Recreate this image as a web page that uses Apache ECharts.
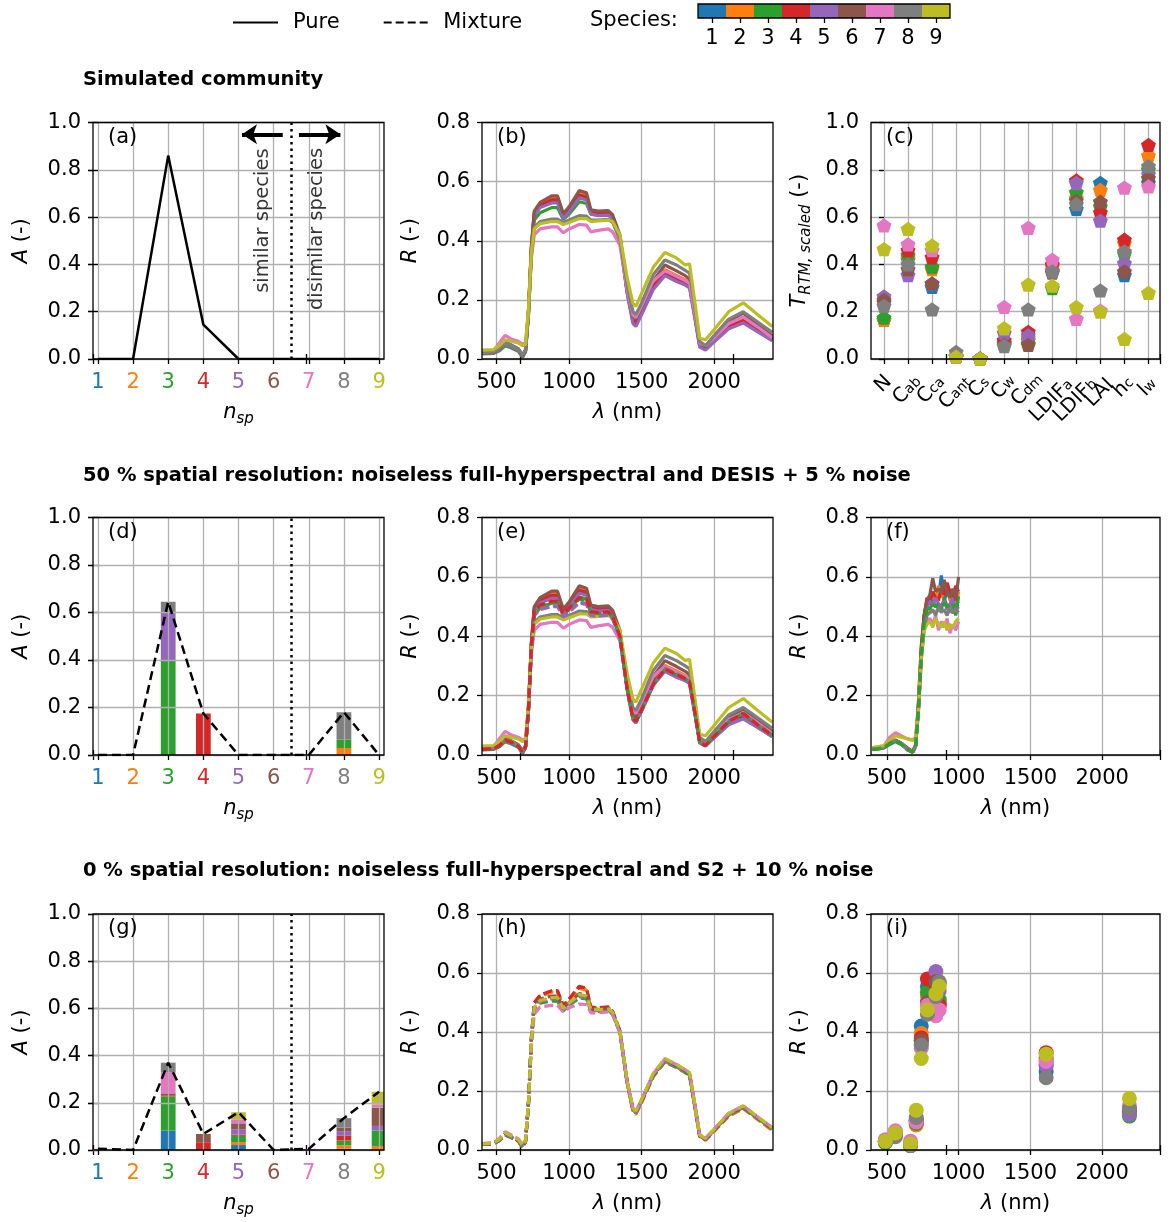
<!DOCTYPE html>
<html><head><meta charset="utf-8">
<script src="https://cdn.jsdelivr.net/npm/echarts@6/dist/echarts.min.js"></script>
<style>html,body{margin:0;padding:0;background:#fff}#c{width:1171px;height:1222px}</style>
</head><body><div id="c"></div>
<script>
// ---------------- DATA ----------------
const speciesLabels = ['1','2','3','4','5','6','7','8','9'];
const speciesColors = ['#1f77b4','#ff7f0e','#2ca02c','#d62728','#9467bd','#8c564b','#e377c2','#7f7f7f','#bcbd22'];
const nspTicks = [1,2,3,4,5,6,7,8,9];
const lambdaTicks = [500,1000,1500,2000];

const abundancePure  = [0,0,0.86,0.145,0,0,0,0,0];
const abundanceMix50 = [0,0,0.645,0.175,0,0,0,0.18,0];
const abundanceMix0  = [0.005,0,0.37,0.068,0.16,0,0.005,0.135,0.247];

// stacked bars: one row per species, one column per n_sp position
const barsMix50 = [
  [0,0,0,0,0,0,0,0,0],
  [0,0,0,0,0,0,0,0.03,0],
  [0,0,0.40,0,0,0,0,0.035,0],
  [0,0,0,0.175,0,0,0,0,0],
  [0,0,0.20,0,0,0,0,0,0],
  [0,0,0,0,0,0,0,0,0],
  [0,0,0,0,0,0,0,0,0],
  [0,0,0.045,0,0,0,0,0.115,0],
  [0,0,0,0,0,0,0,0,0]
];
const barsMix0 = [
  [0,0,0.082,0,0.021,0,0,0.005,0],
  [0.005,0,0,0,0.013,0,0,0.015,0.017],
  [0,0,0.145,0,0.026,0,0,0.02,0.065],
  [0,0,0.005,0.033,0.005,0,0,0.02,0],
  [0,0,0,0,0.023,0,0,0.02,0.02],
  [0,0,0.008,0.035,0.025,0,0,0.015,0.077],
  [0,0,0.09,0,0.017,0,0.005,0,0.013],
  [0,0,0.04,0,0,0,0,0.04,0],
  [0,0,0,0,0.03,0,0,0,0.055]
];

const traitMain = ['N','C','C','C','C','C','C','LDIF','LDIF','LAI','h','l'];
const traitSub  = ['','ab','ca','ant','s','w','dm','a','b','','c','w'];
const traitValues = [
  [.165,.42,.305,.01,.002,.07,.08,.37,.635,.745,.355,.745],
  [.165,.43,.38,.01,.002,.07,.09,.39,.68,.715,.49,.86],
  [.175,.44,.39,.01,.002,.065,.065,.30,.705,.645,.445,.80],
  [.24,.46,.43,.01,.002,.08,.115,.40,.755,.62,.505,.905],
  [.265,.355,.32,.01,.002,.11,.10,.375,.745,.585,.405,.78],
  [.25,.38,.32,.01,.002,.06,.06,.365,.67,.665,.37,.765],
  [.565,.485,.46,.01,.002,.22,.555,.42,.17,.205,.725,.73],
  [.225,.40,.21,.03,.002,.055,.21,.37,.655,.29,.455,.815],
  [.465,.55,.48,.01,.002,.13,.315,.31,.22,.20,.085,.28]
];

const wavelengths = [400,480,520,560,600,650,680,700,720,740,760,800,880,920,960,1000,1070,1120,1150,1200,1270,1300,1350,1400,1440,1460,1500,1580,1660,1740,1800,1830,1870,1900,1940,2000,2100,2200,2300,2400];
const pureSpectra = [
  [.019,.021,.033,.054,.045,.032,.010,.028,.155,.370,.490,.518,.535,.535,.480,.502,.552,.545,.495,.490,.492,.478,.410,.230,.135,.125,.165,.252,.300,.280,.265,.254,.140,.048,.036,.066,.115,.135,.100,.065],
  [.020,.022,.034,.055,.046,.033,.011,.030,.160,.375,.495,.525,.547,.547,.488,.510,.562,.555,.500,.495,.497,.483,.415,.235,.138,.128,.168,.255,.302,.283,.268,.257,.142,.050,.038,.068,.118,.140,.105,.068],
  [.017,.019,.028,.045,.038,.026,.006,.024,.145,.355,.470,.495,.512,.512,.472,.490,.532,.526,.490,.487,.490,.476,.408,.225,.125,.115,.155,.240,.288,.270,.257,.247,.133,.043,.032,.060,.105,.125,.094,.062],
  [.019,.021,.033,.052,.044,.031,.010,.028,.155,.370,.492,.520,.538,.538,.483,.505,.555,.548,.497,.493,.495,.480,.412,.230,.132,.122,.160,.245,.292,.272,.258,.247,.135,.045,.034,.062,.110,.130,.098,.065],
  [.019,.021,.032,.050,.042,.030,.009,.027,.150,.365,.485,.512,.528,.528,.475,.497,.545,.538,.490,.485,.487,.472,.402,.222,.120,.110,.150,.235,.282,.262,.250,.240,.128,.040,.030,.058,.102,.122,.092,.062],
  [.020,.022,.035,.058,.048,.035,.012,.030,.160,.380,.500,.530,.552,.552,.492,.515,.570,.562,.505,.500,.502,.488,.420,.240,.145,.135,.175,.265,.318,.298,.282,.270,.150,.055,.042,.075,.128,.155,.118,.078],
  [.025,.028,.055,.080,.068,.060,.050,.055,.160,.340,.420,.440,.447,.447,.427,.440,.455,.453,.430,.435,.440,.430,.385,.235,.150,.140,.180,.265,.298,.280,.265,.256,.145,.055,.045,.072,.120,.142,.108,.072],
  [.020,.024,.036,.055,.047,.034,.014,.032,.155,.350,.445,.465,.473,.473,.462,.470,.485,.483,.470,.470,.472,.462,.405,.250,.160,.150,.190,.285,.335,.318,.300,.290,.162,.060,.045,.080,.135,.160,.125,.090],
  [.030,.032,.045,.065,.060,.054,.045,.050,.170,.360,.440,.458,.465,.465,.455,.462,.475,.475,.465,.467,.470,.465,.420,.275,.188,.178,.222,.310,.360,.342,.318,.322,.180,.070,.065,.100,.160,.190,.150,.110]
];
// mixture spectra for panel (e): species index (1-based) and values
const mix50SpectraSpecies = [3,8,5,4];
const mix50Spectra = [
  [.018,.020,.030,.047,.040,.027,.007,.026,.150,.360,.475,.500,.512,.512,.472,.492,.525,.520,.478,.476,.478,.465,.398,.222,.120,.110,.150,.236,.288,.270,.256,.246,.132,.043,.032,.062,.112,.140,.100,.066],
  [.019,.021,.032,.050,.042,.029,.009,.028,.152,.362,.472,.492,.503,.503,.468,.485,.515,.510,.472,.470,.472,.460,.396,.224,.124,.114,.154,.240,.292,.274,.259,.249,.134,.044,.033,.064,.115,.142,.103,.068],
  [.019,.021,.031,.049,.041,.028,.008,.027,.150,.358,.470,.490,.500,.500,.465,.482,.512,.507,.470,.468,.470,.458,.394,.220,.118,.108,.148,.234,.285,.267,.253,.243,.130,.042,.031,.060,.110,.137,.098,.064],
  [.019,.021,.032,.051,.043,.030,.009,.028,.152,.365,.482,.505,.518,.518,.476,.495,.530,.525,.482,.480,.482,.468,.400,.224,.122,.112,.152,.238,.289,.271,.257,.247,.133,.043,.032,.063,.113,.140,.101,.066]
];
// mixture spectra for panel (h), species 1..9
const mix0Spectra = [
  [.020,.022,.034,.056,.046,.032,.010,.030,.160,.378,.498,.522,.537,.537,.488,.510,.552,.545,.483,.480,.483,.468,.403,.230,.136,.126,.166,.253,.303,.283,.266,.256,.138,.047,.035,.066,.118,.143,.106,.070],
  [.020,.022,.034,.055,.046,.032,.010,.030,.158,.375,.495,.520,.535,.535,.486,.507,.548,.542,.480,.478,.480,.466,.400,.226,.130,.120,.160,.248,.300,.280,.262,.252,.135,.045,.033,.063,.114,.140,.103,.066],
  [.019,.021,.032,.050,.042,.029,.008,.028,.152,.365,.478,.498,.505,.505,.472,.490,.515,.512,.470,.470,.472,.460,.398,.228,.135,.125,.165,.250,.298,.280,.263,.254,.138,.046,.035,.066,.118,.143,.106,.070],
  [.020,.022,.034,.055,.046,.032,.010,.030,.160,.380,.500,.525,.540,.540,.490,.512,.555,.548,.485,.482,.485,.470,.405,.232,.138,.128,.168,.255,.305,.285,.268,.258,.140,.048,.036,.068,.120,.145,.108,.072],
  [.019,.021,.032,.051,.043,.030,.009,.028,.153,.368,.482,.503,.512,.512,.476,.494,.520,.516,.473,.472,.474,.462,.400,.229,.136,.126,.166,.252,.301,.282,.265,.255,.139,.047,.035,.067,.119,.144,.107,.071],
  [.020,.022,.033,.053,.045,.031,.010,.029,.156,.372,.490,.512,.522,.522,.480,.500,.530,.526,.477,.476,.478,.465,.402,.231,.138,.128,.168,.256,.306,.286,.268,.258,.141,.048,.036,.068,.120,.146,.109,.073],
  [.022,.025,.040,.062,.052,.038,.018,.035,.150,.350,.460,.485,.490,.490,.468,.482,.495,.493,.465,.465,.468,.458,.398,.232,.140,.130,.170,.258,.308,.290,.272,.262,.145,.052,.040,.072,.125,.150,.112,.076],
  [.020,.023,.035,.055,.046,.033,.012,.030,.155,.368,.480,.505,.515,.515,.478,.496,.525,.520,.475,.474,.476,.464,.402,.232,.140,.130,.170,.257,.307,.288,.270,.260,.142,.050,.038,.070,.122,.148,.110,.074],
  [.021,.024,.037,.058,.049,.036,.016,.033,.157,.370,.482,.507,.517,.517,.480,.498,.527,.522,.477,.476,.478,.466,.404,.234,.142,.132,.172,.260,.310,.290,.272,.262,.144,.051,.039,.071,.124,.150,.112,.076]
];

const desisWavelengths = [400,440,480,520,560,600,640,680,700,720,740,760,780,800,820,840,860,880,900,920,940,960,980,1000];
const desisSpectra = [
  [.02,.022,.026,.04,.048,.04,.022,.01,.03,.16,.35,.46,.50,.52,.51,.54,.53,.605,.52,.55,.53,.50,.52,.51],
  [.02,.023,.027,.04,.05,.04,.024,.012,.035,.18,.37,.47,.52,.53,.55,.52,.57,.53,.55,.56,.52,.54,.50,.55],
  [.018,.02,.024,.035,.045,.035,.02,.008,.028,.15,.34,.45,.50,.49,.52,.50,.51,.49,.53,.50,.48,.51,.47,.535],
  [.02,.022,.026,.04,.05,.04,.022,.01,.03,.16,.35,.47,.53,.51,.55,.53,.52,.56,.54,.58,.55,.53,.57,.55],
  [.02,.022,.026,.04,.048,.04,.02,.01,.03,.15,.33,.45,.50,.52,.50,.53,.51,.50,.52,.49,.51,.53,.49,.50],
  [.02,.022,.025,.04,.05,.04,.025,.012,.03,.17,.36,.47,.52,.54,.595,.55,.56,.545,.59,.55,.53,.56,.52,.60],
  [.025,.027,.03,.06,.075,.065,.055,.05,.06,.15,.32,.42,.45,.46,.44,.47,.42,.45,.43,.46,.41,.44,.42,.45],
  [.02,.022,.025,.04,.05,.04,.02,.012,.028,.14,.32,.43,.47,.48,.49,.47,.50,.48,.49,.47,.50,.48,.49,.48],
  [.025,.028,.032,.05,.065,.06,.055,.05,.058,.15,.33,.42,.44,.45,.43,.46,.44,.43,.45,.42,.44,.43,.45,.46]
];
const desisMixSpecies = [8,3];
const desisMixSpectra = [
  [.02,.022,.025,.04,.05,.04,.02,.012,.03,.15,.33,.44,.475,.48,.485,.48,.49,.485,.49,.48,.485,.48,.485,.48],
  [.019,.021,.024,.038,.047,.037,.018,.01,.028,.15,.335,.45,.49,.50,.505,.50,.51,.505,.51,.50,.505,.50,.505,.50]
];

const s2Bands = [490,560,665,705,740,783,842,865,1610,2190];
const s2Reflectance = [
  [.03,.055,.02,.10,.42,.555,.55,.50,.265,.125],
  [.03,.055,.015,.085,.395,.52,.53,.49,.30,.13],
  [.025,.05,.015,.09,.37,.535,.52,.51,.29,.115],
  [.03,.055,.02,.095,.38,.58,.56,.49,.33,.135],
  [.03,.06,.02,.10,.36,.50,.605,.54,.285,.12],
  [.03,.055,.02,.10,.37,.50,.57,.565,.31,.14],
  [.035,.065,.03,.095,.345,.49,.455,.475,.30,.15],
  [.03,.045,.015,.11,.355,.46,.52,.57,.245,.14],
  [.03,.058,.02,.135,.31,.475,.53,.555,.325,.175]
];

// ---------------- LAYOUT / STYLE ----------------
const FONT = 'DejaVu Sans';
const FS = 21;
const cols = [{left:93,width:291},{left:482,width:291},{left:871,width:289}];
const rows = [{top:122.5,height:236.5},{top:517.5,height:237.5},{top:914,height:236}];

const grid=[], xAxis=[], yAxis=[], series=[], graphic=[];
const tickStyle = {show:true, length:5, lineStyle:{color:'#000', width:1.3}};
const splitStyle = {show:true, lineStyle:{color:'#b0b0b0', width:1.3}};
const labelBase = {color:'#000', fontSize:FS, fontFamily:FONT};
const richName = {
  m:{color:'#000', fontSize:FS, fontFamily:FONT, lineHeight:23, verticalAlign:'top'},
  i:{color:'#000', fontSize:FS, fontFamily:FONT, fontStyle:'italic', lineHeight:23, verticalAlign:'top'},
  si:{color:'#000', fontSize:15, fontFamily:FONT, fontStyle:'italic', lineHeight:15, padding:[10,0,0,0], verticalAlign:'top'}
};
const colorRich = {};
speciesLabels.forEach((l,i)=>{ colorRich['c'+l] = {color:speciesColors[i], fontSize:FS, fontFamily:FONT}; });

function addPanel(r, c, xCfg, yCfg, axisZ) {
  const gi = grid.length;
  grid.push({left:cols[c].left, top:rows[r].top, width:cols[c].width, height:rows[r].height,
    show:true, borderColor:'#000', borderWidth:1.3, backgroundColor:'transparent', z:6});
  const xi = xAxis.length;
  xAxis.push(Object.assign({gridIndex:gi, type:'value', z:axisZ||0, axisLine:{show:false}, axisTick:tickStyle, splitLine:splitStyle,
    nameLocation:'middle', nameGap:43, nameTextStyle:{fontSize:FS, fontFamily:FONT, color:'#000', rich:richName}}, xCfg));
  const yi = yAxis.length;
  yAxis.push(Object.assign({gridIndex:gi, type:'value', z:axisZ||0, min:0, interval:0.2, axisLine:{show:false}, axisTick:tickStyle, splitLine:splitStyle,
    axisLabel:Object.assign({}, labelBase, {margin:12, formatter:v=>v.toFixed(1)}),
    nameLocation:'middle', nameGap:59, nameTextStyle:{fontSize:FS, fontFamily:FONT, color:'#000', rich:richName}}, yCfg));
  return {gi, xi, yi};
}
function nspAxis(){ return {min:0.86, max:9.14,
  axisTick:Object.assign({}, tickStyle, {customValues:nspTicks}),
  axisLabel:Object.assign({}, labelBase, {margin:13, customValues:nspTicks, formatter:v=>'{c'+v+'|'+v+'}', rich:colorRich}),
  name:'{i|n}{si|sp}'}; }
function lambdaAxis(mn, mx){ return {min:mn, max:mx,
  axisTick:Object.assign({}, tickStyle, {customValues:lambdaTicks}),
  axisLabel:Object.assign({}, labelBase, {margin:13, customValues:lambdaTicks, formatter:v=>String(v)}),
  name:'{i|λ}{m| (nm)}'}; }
function frame(r){
  const gi = grid.length;
  grid.push({left:93, top:rows[r].top, width:1067, height:rows[r].height, show:false});
  const base = {gridIndex:gi, type:'value', min:0, max:1, interval:0.2, axisLine:{show:false}, axisLabel:{show:false}, splitLine:{show:false}, axisTick:tickStyle};
  xAxis.push(Object.assign({position:'bottom'}, base)); xAxis.push(Object.assign({position:'top'}, base));
  yAxis.push(Object.assign({position:'left'}, base)); yAxis.push(Object.assign({position:'right'}, base));
}
const zip = (xs, ys) => xs.map((x,i)=>[x, ys[i]]);
function spectrum(ax, xs, ys, color, dashed, z){
  series.push({type:'line', xAxisIndex:ax.xi, yAxisIndex:ax.yi, data:zip(xs, ys), symbol:'none', silent:true, z:z||2,
    lineStyle:{color, width:3.2, type: dashed ? [9,4] : 'solid'}, itemStyle:{color}});
}
// stacked bars drawn through the axis scales (value-type x axis)
function stackedBars(ax, bars){
  const base = nspTicks.map(()=>0);
  bars.forEach((vals,s)=>{
    const data = [];
    vals.forEach((v,k)=>{ if (v>0){ data.push([nspTicks[k], base[k], base[k]+v]); base[k]+=v; } });
    const color = speciesColors[s];
    series.push({type:'custom', xAxisIndex:ax.xi, yAxisIndex:ax.yi, silent:true, z:2, clip:true,
      encode:{x:0, y:[1,2]}, data,
      renderItem:(params, api)=>{
        const p0 = api.coord([api.value(0), api.value(1)]);
        const p1 = api.coord([api.value(0), api.value(2)]);
        const w = api.size([0.42, 0])[0];
        return {type:'rect', shape:{x:p0[0]-w/2, y:p1[1], width:w, height:p0[1]-p1[1]}, style:{fill:color}};
      }});
  });
}
const dottedDivider = {silent:true, symbol:['none','none'], label:{show:false}, animation:false,
  lineStyle:{color:'#000', width:2.5, type:[2.5,4]}, data:[[{coord:[6.5,0]},{coord:[6.5,1]}]]};

// ---------- Row 1 ----------
const pa = addPanel(0,0, nspAxis(), {max:1, name:'{i|A}{m| (-)}'});
series.push({type:'line', xAxisIndex:pa.xi, yAxisIndex:pa.yi, data:zip(nspTicks, abundancePure), symbol:'none', z:4,
  lineStyle:{color:'#000', width:2.5}, itemStyle:{color:'#000'}, markLine:dottedDivider});
series.push({type:'line', xAxisIndex:pa.xi, yAxisIndex:pa.yi, data:[], symbol:'none',
  markLine:{silent:true, symbol:['none','arrow'], symbolSize:15, label:{show:false}, animation:false,
    lineStyle:{color:'#000', width:4, type:'solid'},
    data:[[{coord:[6.26,0.95]},{coord:[5.1,0.95]}],[{coord:[6.72,0.95]},{coord:[7.9,0.95]}]]}});
series.push({type:'scatter', xAxisIndex:pa.xi, yAxisIndex:pa.yi, symbolSize:0, silent:true, z:6,
  data:[{value:[5.69,0.585], label:{formatter:'similar species'}},{value:[7.22,0.55], label:{formatter:'disimilar species'}}],
  label:{show:true, rotate:90, position:'inside', color:'#000', fontSize:19.5, fontFamily:FONT}});
// legend entries
series.push({type:'line', name:'Pure', xAxisIndex:pa.xi, yAxisIndex:pa.yi, data:[], symbol:'none', lineStyle:{color:'#000', width:2}, itemStyle:{color:'#000'}});
series.push({type:'line', name:'Mixture', xAxisIndex:pa.xi, yAxisIndex:pa.yi, data:[], symbol:'none', lineStyle:{color:'#000', width:2, type:[6,4]}, itemStyle:{color:'#000'}});

const pb = addPanel(0,1, lambdaAxis(400,2405), {max:0.8, name:'{i|R}{m| (-)}'});
pureSpectra.forEach((s,i)=>spectrum(pb, wavelengths, s, speciesColors[i], false));

const pc = addPanel(0,2, {min:-0.54, max:11.48, axisTick:Object.assign({}, tickStyle, {customValues:traitMain.map((_,i)=>i)}), axisLabel:{show:false}},
  {max:1, name:'{i|T}{si|RTM, scaled}{m| (-)}'});
const pentagon = 'path://M0,-10L9.51,-3.09L5.88,8.09L-5.88,8.09L-9.51,-3.09Z';
traitValues.forEach((vals,i)=>{
  series.push({type:'scatter', xAxisIndex:pc.xi, yAxisIndex:pc.yi, data:vals.map((v,j)=>[j,v]), symbol:pentagon, symbolSize:15, symbolKeepAspect:true,
    itemStyle:{color:speciesColors[i], opacity:1}, silent:true, z:3});
});
const richZr = {
  m:{fill:'#000', fontSize:20, fontFamily:FONT, lineHeight:22, verticalAlign:'top'},
  s:{fill:'#000', fontSize:14, fontFamily:FONT, lineHeight:14, padding:[4,0,0,0], verticalAlign:'top'}
};
series.push({type:'custom', xAxisIndex:pc.xi, yAxisIndex:pc.yi, clip:false, silent:true, z:10,
  data:traitMain.map((_,i)=>[i,0]),
  renderItem:(params, api)=>{
    const i = api.value(0);
    const p = api.coord([i,0]);
    const main = traitMain[i], sub = traitSub[i];
    const txt = '{m|'+main+'}' + (sub ? '{s|'+sub+'}' : '');
    const L = main.length*20*0.62 + sub.length*14*0.6;
    const off = 15 + 0.354*(L + 18);
    return {type:'text', x:p[0], y:p[1]+off, rotation:Math.PI/4,
      style:{text:txt, rich:richZr, align:'center', verticalAlign:'middle', fill:'#000', fontSize:20, fontFamily:FONT}};
  }});

// ---------- Row 2 ----------
const pd = addPanel(1,0, nspAxis(), {max:1, name:'{i|A}{m| (-)}'}, 3);
stackedBars(pd, barsMix50);
series.push({type:'line', xAxisIndex:pd.xi, yAxisIndex:pd.yi, data:zip(nspTicks, abundanceMix50), symbol:'none', z:5,
  lineStyle:{color:'#000', width:2.5, type:[9,5]}, markLine:dottedDivider});

const pe = addPanel(1,1, lambdaAxis(400,2405), {max:0.8, name:'{i|R}{m| (-)}'});
pureSpectra.forEach((s,i)=>spectrum(pe, wavelengths, s, speciesColors[i], false));
mix50Spectra.forEach((s,i)=>spectrum(pe, wavelengths, s, speciesColors[mix50SpectraSpecies[i]-1], true, 3));

const pf = addPanel(1,2, lambdaAxis(390,2403), {max:0.8, name:'{i|R}{m| (-)}'});
desisSpectra.forEach((s,i)=>spectrum(pf, desisWavelengths, s, speciesColors[i], false));
desisMixSpectra.forEach((s,i)=>spectrum(pf, desisWavelengths, s, speciesColors[desisMixSpecies[i]-1], true, 3));

// ---------- Row 3 ----------
const pg = addPanel(2,0, nspAxis(), {max:1, name:'{i|A}{m| (-)}'}, 3);
stackedBars(pg, barsMix0);
series.push({type:'line', xAxisIndex:pg.xi, yAxisIndex:pg.yi, data:zip(nspTicks, abundanceMix0), symbol:'none', z:5,
  lineStyle:{color:'#000', width:2.5, type:[9,5]}, markLine:dottedDivider});

const ph = addPanel(2,1, lambdaAxis(400,2405), {max:0.8, name:'{i|R}{m| (-)}'});
mix0Spectra.forEach((s,i)=>spectrum(ph, wavelengths, s, speciesColors[i], true));

const pi = addPanel(2,2, lambdaAxis(390,2403), {max:0.8, name:'{i|R}{m| (-)}'});
s2Reflectance.forEach((vals,i)=>{
  series.push({type:'scatter', xAxisIndex:pi.xi, yAxisIndex:pi.yi, data:zip(s2Bands, vals), symbol:'circle', symbolSize:15,
    itemStyle:{color:speciesColors[i], opacity:1}, silent:true, z:3});
});

// frames (row-wide tick overlays)
frame(0); frame(1); frame(2);

// colorbar
const cbG = grid.length;
grid.push({left:698, top:4, width:252, height:14, show:true, borderColor:'#000', borderWidth:1.3, z:6});
const cbX = xAxis.length;
xAxis.push({gridIndex:cbG, type:'category', data:speciesLabels, axisLine:{show:false},
  axisTick:Object.assign({}, tickStyle, {alignWithLabel:true}), axisLabel:Object.assign({}, labelBase, {margin:10}), splitLine:{show:false}});
const cbY = yAxis.length;
yAxis.push({gridIndex:cbG, type:'value', min:0, max:1, show:false});
series.push({type:'bar', xAxisIndex:cbX, yAxisIndex:cbY, barWidth:'100%', silent:true,
  data:speciesColors.map(c=>({value:1, itemStyle:{color:c}}))});

// texts
const letters = [['(a)','(b)','(c)'],['(d)','(e)','(f)'],['(g)','(h)','(i)']];
letters.forEach((row,r)=>row.forEach((t,c)=>{
  graphic.push({type:'text', x:cols[c].left+15, y:rows[r].top+15, z:20,
    style:{text:t, fill:'#000', font:FS+'px "'+FONT+'"', align:'left', verticalAlign:'middle'}});
}));
const titles = [['Simulated community',80],['50 % spatial resolution: noiseless full-hyperspectral and DESIS + 5 % noise',476],['0 % spatial resolution: noiseless full-hyperspectral and S2 + 10 % noise',871]];
titles.forEach(([t,y])=>graphic.push({type:'text', x:83, y, z:20,
  style:{text:t, fill:'#000', font:'bold 19.5px "'+FONT+'"', align:'left', verticalAlign:'middle'}}));
graphic.push({type:'text', x:590, y:21, z:20, style:{text:'Species:', fill:'#000', font:FS+'px "'+FONT+'"', align:'left', verticalAlign:'middle'}});

const solidIcon = 'path://M0,0h45v2.2h-45z';
const dashIcon = 'path://M0,0h8v2.2h-8zM12,0h8v2.2h-8zM24,0h8v2.2h-8zM36,0h8v2.2h-8z';
const chart = echarts.init(document.getElementById('c'), null, {renderer:'canvas'});
chart.setOption({
  animation:false, backgroundColor:'#fff', textStyle:{fontFamily:FONT},
  legend:{data:[{name:'Pure', icon:solidIcon},{name:'Mixture', icon:dashIcon}], left:228, top:7, itemWidth:45, itemHeight:2.2, itemGap:44, selectedMode:false,
    itemStyle:{color:'#000'}, textStyle:{fontSize:FS, fontFamily:FONT, color:'#000', padding:[0,0,0,10]}},
  grid, xAxis, yAxis, series, graphic
});
</script></body></html>
